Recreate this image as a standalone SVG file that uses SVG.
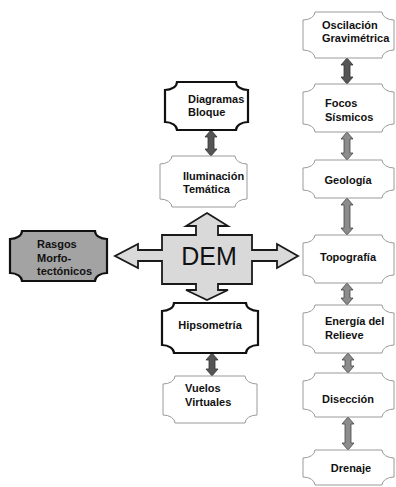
<svg xmlns="http://www.w3.org/2000/svg" width="396" height="487" viewBox="0 0 396 487">
<style>
.thick{fill:#fff;stroke:#111;stroke-width:2.2}
.thin{fill:#fff;stroke:#9a9a9a;stroke-width:1}
.gray{fill:#a3a3a3;stroke:#111;stroke-width:2.2}
text{font-family:"Liberation Sans",Arial,sans-serif;font-size:11px;font-weight:bold;fill:#111}
.c{text-anchor:middle}
.dem{font-size:25px;font-weight:normal;fill:#111}
.ad{fill:#555;stroke:#333;stroke-width:0.8}
.al{fill:#8c8c8c;stroke:#444;stroke-width:0.8}
.cross{fill:#d9d9d9;stroke:#1a1a1a;stroke-width:1.8;stroke-linejoin:miter}
</style>
<rect width="396" height="487" fill="#fff"/>
<g id="connectors">
<polygon class="ad" points="211,130 217,137 214,137 214,149 217,149 211,156 205,149 208,149 208,137 205,137"/>
<polygon class="ad" points="212,353 218,360 215,360 215,369 218,369 212,376 206,369 209,369 209,360 206,360"/>
<polygon class="ad" points="347,58 353,65 350,65 350,77 353,77 347,84 341,77 344,77 344,65 341,65"/>
<polygon class="al" points="347,132 353,139 350,139 350,153 353,153 347,160 341,153 344,153 344,139 341,139"/>
<polygon class="al" points="347,198 353,205 350,205 350,228 353,228 347,235 341,228 344,228 344,205 341,205"/>
<polygon class="al" points="347,283 353,290 350,290 350,298 353,298 347,305 341,298 344,298 344,290 341,290"/>
<polygon class="al" points="348,353 354,360 351,360 351,366 354,366 348,373 342,366 345,366 345,360 342,360"/>
<polygon class="al" points="348,417 354,424 351,424 351,443 354,443 348,450 342,443 345,443 345,424 342,424"/>
</g>
<g id="dem">
<polygon class="cross" points="207,213 228,226 218,226 218,235 252,235 252,250 277,250 277,244 298,256 277,268 277,261 252,261 252,284 218,284 218,290 228,290 207,300 186,290 196,290 196,284 162,284 162,261 138,261 138,268 115,256 138,244 138,250 162,250 162,235 196,235 196,226 186,226"/>
<text class="dem c" x="209" y="265">DEM</text>
</g>
<g id="rasgos">
<path class="gray" d="M22,231 H95 A12,8 0 0 0 107,239 V273 A12,8 0 0 0 95,281 H22 A12,8 0 0 0 10,273 V239 A12,8 0 0 0 22,231 Z"/>
<text x="37" y="248">Rasgos</text>
<text x="37" y="262">Morfo-</text>
<text x="37" y="275">tectónicos</text>
</g>
<g id="diagramas">
<path class="thick" d="M177,82 H236 A12,8 0 0 0 248,90 V122 A12,8 0 0 0 236,130 H177 A12,8 0 0 0 165,122 V90 A12,8 0 0 0 177,82 Z"/>
<text x="188" y="103">Diagramas</text>
<text x="188" y="116">Bloque</text>
</g>
<g id="iluminacion">
<path class="thin" d="M172,156 H235 A12,8 0 0 0 247,164 V199 A12,8 0 0 0 235,207 H172 A12,8 0 0 0 160,199 V164 A12,8 0 0 0 172,156 Z"/>
<text x="183" y="180">Iluminación</text>
<text x="183" y="193">Temática</text>
</g>
<g id="hipsometria">
<path class="thick" d="M174,303 H246 A12,8 0 0 0 258,311 V345 A12,8 0 0 0 246,353 H174 A12,8 0 0 0 162,345 V311 A12,8 0 0 0 174,303 Z"/>
<text class="c" x="210" y="329">Hipsometría</text>
</g>
<g id="vuelos">
<path class="thin" d="M175,376 H245 A12,8 0 0 0 257,384 V415 A12,8 0 0 0 245,423 H175 A12,8 0 0 0 163,415 V384 A12,8 0 0 0 175,376 Z"/>
<text x="185" y="392">Vuelos</text>
<text x="185" y="406">Virtuales</text>
</g>
<g id="oscilacion">
<path class="thin" d="M315,12 H382 A12,8 0 0 0 394,20 V50 A12,8 0 0 0 382,58 H315 A12,8 0 0 0 303,50 V20 A12,8 0 0 0 315,12 Z"/>
<text x="322" y="29">Oscilación</text>
<text x="322" y="42">Gravimétrica</text>
</g>
<g id="focos">
<path class="thin" d="M315,84 H382 A12,8 0 0 0 394,92 V124 A12,8 0 0 0 382,132 H315 A12,8 0 0 0 303,124 V92 A12,8 0 0 0 315,84 Z"/>
<text x="325" y="107">Focos</text>
<text x="325" y="121">Sísmicos</text>
</g>
<g id="geologia">
<path class="thin" d="M315,160 H382 A12,8 0 0 0 394,168 V190 A12,8 0 0 0 382,198 H315 A12,8 0 0 0 303,190 V168 A12,8 0 0 0 315,160 Z"/>
<text class="c" x="348" y="184">Geología</text>
</g>
<g id="topografia">
<path class="thin" d="M315,235 H382 A12,8 0 0 0 394,243 V275 A12,8 0 0 0 382,283 H315 A12,8 0 0 0 303,275 V243 A12,8 0 0 0 315,235 Z"/>
<text class="c" x="348" y="261">Topografía</text>
</g>
<g id="energia">
<path class="thin" d="M315,305 H382 A12,8 0 0 0 394,313 V345 A12,8 0 0 0 382,353 H315 A12,8 0 0 0 303,345 V313 A12,8 0 0 0 315,305 Z"/>
<text x="325" y="325">Energía del</text>
<text x="325" y="339">Relieve</text>
</g>
<g id="diseccion">
<path class="thin" d="M315,373 H382 A12,8 0 0 0 394,381 V409 A12,8 0 0 0 382,417 H315 A12,8 0 0 0 303,409 V381 A12,8 0 0 0 315,373 Z"/>
<text class="c" x="348" y="403">Disección</text>
</g>
<g id="drenaje">
<path class="thin" d="M315,450 H382 A12,8 0 0 0 394,458 V477 A12,8 0 0 0 382,485 H315 A12,8 0 0 0 303,477 V458 A12,8 0 0 0 315,450 Z"/>
<text class="c" x="351" y="472">Drenaje</text>
</g>
</svg>
